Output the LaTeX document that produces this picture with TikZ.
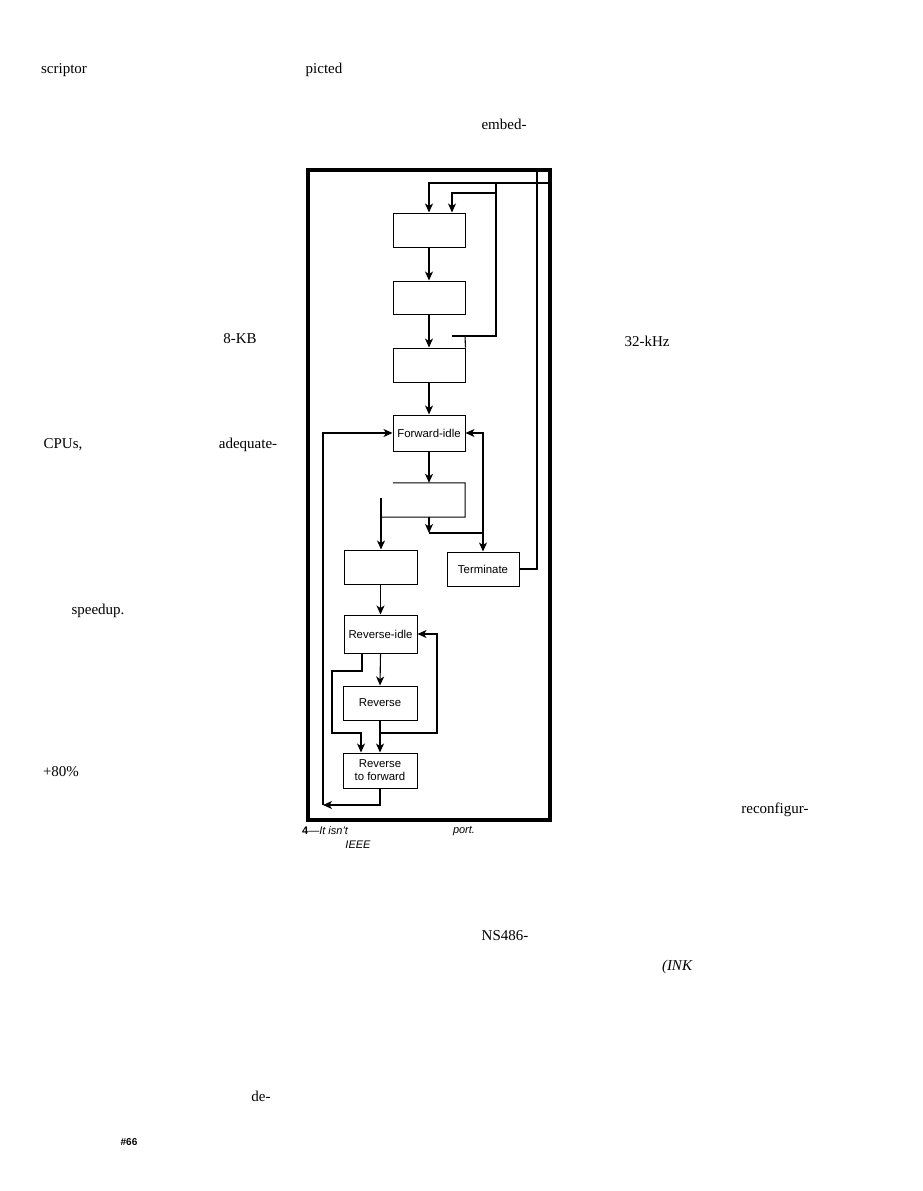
\documentclass[tikz,border=0pt]{standalone}
\usepackage{fontspec}
\setmainfont{Liberation Serif}
\newfontfamily\sansf[Ligatures=TeX]{Liberation Sans}
\usetikzlibrary{arrows.meta}
\tikzset{
  tip/.tip={Stealth[length=9pt,width=8pt,inset=2.5pt]},
  conn/.style={line width=1.1pt},
  arr/.style={conn,-tip},
  dbl/.style={conn,tip-tip},
  box/.style={draw,line width=1pt,minimum width=72pt,minimum height=34pt,inner sep=0pt,
    font=\sansf\fontsize{11.4}{13}\selectfont,align=center},
  body/.style={inner sep=0pt,font=\fontsize{15}{18}\selectfont},
  capt/.style={inner sep=0pt,font=\sansf\itshape\fontsize{11}{13}\selectfont}
}
\begin{document}
\begin{tikzpicture}[x=1pt,y=-1pt]
\useasboundingbox (0,0) rectangle (923,1191);
\fill[white] (0,0) rectangle (923,1191);
% body text fragments
\node[body] (t1) at (64,70) {scriptor};
\node[body] (t2) at (324,70) {picted};
\node[body] (t3) at (504,124) {embed-};
\node[body] (t4) at (240,339) {8-KB};
\node[body] (t5) at (647,341) {32-kHz};
\node[body] (t6) at (63,445) {CPUs,};
\node[body] (t7) at (248,445) {adequate-};
\node[body] (t8) at (98,611) {speedup.};
\node[body] (t9) at (61,772) {+80\%};
\node[body] (t10) at (775,810) {reconfigur-};
\node[body] (t11) at (505,936) {NS486-};
\node[body] (t12) at (677,967) {\itshape (INK};
\node[body] (t13) at (261,1096) {de-};
\node[inner sep=0pt,font=\sansf\bfseries\fontsize{10}{12}\selectfont] (t14) at (129,1142) {\#66};
% caption
\node[capt,anchor=west] (c1) at (302,831) {{\upshape\bfseries 4}—It isn't};
\node[capt] (c2) at (464,831) {port.};
\node[capt] (c3) at (358,845) {IEEE};
% frame
\draw[line width=4pt] (308,170) rectangle (550,820);
% boxes
\node[box] (b1) at (429,230) {};
\node[box,minimum height=33pt] (b2) at (429,297.5) {};
\node[box] (b3) at (429,365) {};
\node[box,minimum height=36pt] (fidle) at (429,433) {Forward-idle};
\node[minimum width=72pt,minimum height=34pt,inner sep=0pt] (b4) at (429,500) {};
\draw[line width=1pt] (b4.north west) -- (b4.north east) -- (b4.south east) -- (381,517);
\node[box,minimum width=73pt] (b5) at (380.5,567) {};
\node[box] (term) at (483,569) {Terminate};
\node[box,minimum width=73pt,minimum height=38pt] (ridle) at (380.5,634) {Reverse-idle};
\node[box,minimum width=74pt] (rev) at (380,703) {Reverse};
\node[box,minimum width=74pt,minimum height=35pt] (r2f) at (380,770.5) {Reverse\\to forward};
% top connectors
\coordinate (tr) at (549,183);
\coordinate (ttop) at (537,172);
\draw[arr] (tr) -| (b1.north);
\draw[conn] (term.east) -| (ttop);
\coordinate (c3a) at (452,336);
\draw[conn] (c3a) -- (496,336) -- (496,184);
\draw[conn] (465,336) -- (b3.north east);
\coordinate (hk) at (496,193);
\draw[arr] (hk) -| ([xshift=23pt]b1.north);
% main chain
\draw[arr] (b1.south) -- (b2.north);
\draw[arr] (b2.south) -- (b3.north);
\draw[arr] (b3.south) -- (fidle.north);
\draw[arr] (fidle.south) -- (b4.north);
% forward-idle / terminate
\draw[dbl] (fidle.east) -| (term.north);
\coordinate (j1) at (429,533);
\draw[arr] (b4.south) -- (j1);
\draw[conn] (j1) -- (484,533);
\coordinate (k1) at (381,498);
\draw[arr] (k1) -- (k1 |- b5.north);
% reverse part
\draw[arr] (b5.south) -- (ridle.north);
\draw[arr] (ridle.south) -- (rev.north);
\draw[arr] (rev.south) -- (r2f.north);
\coordinate (l1) at (362,653);
\coordinate (l2) at (332,671);
\coordinate (l3) at (361,733);
\draw[arr] (l1) |- (l2) |- (l3) -- (l3 |- r2f.north);
\coordinate (m1) at (380,733);
\draw[arr] (m1) -| (437,634) -- (ridle.east);
% back to forward-idle
\coordinate (lc) at (323,805);
\draw[arr] (r2f.south) |- (lc);
\draw[arr] (lc) |- (fidle.west);
\end{tikzpicture}
\end{document}
